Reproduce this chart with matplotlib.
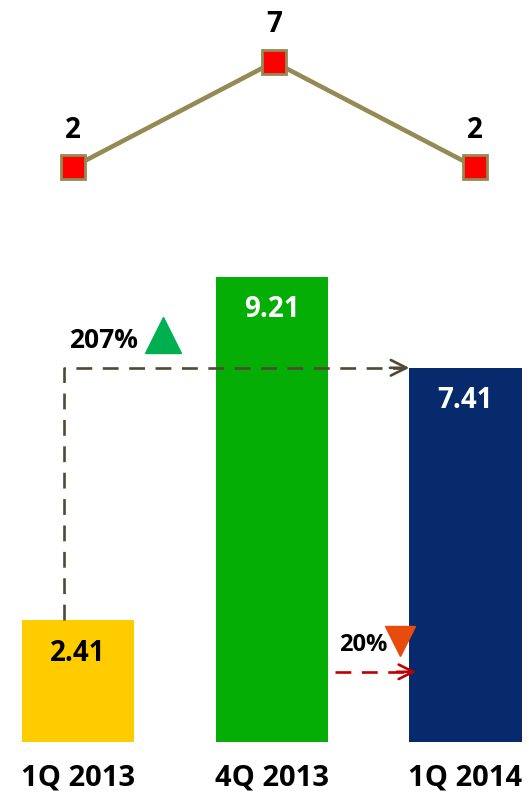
import matplotlib.pyplot as plt
from matplotlib.transforms import ScaledTranslation

# data
quarters = ["1Q 2013", "4Q 2013", "1Q 2014"]
bar_values = [2.41, 9.21, 7.41]
bar_colors = ["#ffcc00", "#04ae04", "#062a6b"]
bar_label_colors = ["black", "white", "white"]
line_values = [2, 7, 2]
change_up = "207%"
change_down = "20%"

plt.rcParams["font.family"] = ["Open Sans", "DejaVu Sans"]
PT = 0.72  # points per pixel at dpi 100

fig = plt.figure(figsize=(5.29, 7.92), dpi=100)

# top line chart
ax_line = fig.add_axes([0, (792 - 209) / 792, 1, 209 / 792])
xs = range(len(line_values))
ax_line.plot(xs, line_values, color="#948a54", lw=3.3, marker="s", ms=17,
             mfc="#ff0000", mec="#948a54", mew=2, zorder=3)
for x, v in zip(xs, line_values):
    ax_line.annotate(str(v), (x, v), xytext=(0, 37 * PT), textcoords="offset points",
                     ha="center", va="center", fontsize=20, fontweight="bold")
ax_line.set_xlim(-73 / 201, (529 - 73) / 201)
ax_line.set_ylim(0, 209 / 21)
ax_line.axis("off")

# bar chart
ax_bar = fig.add_axes([0, 50 / 792, 1, 500 / 792])
pos = list(range(len(bar_values)))
width = 0.58
ax_bar.bar(pos, bar_values, width=width, color=bar_colors)
for p, v, c in zip(pos, bar_values, bar_label_colors):
    ax_bar.annotate(f"{v:.2f}", (p, v), xytext=(0, -33 * PT), textcoords="offset points",
                    ha="center", va="center", fontsize=20, fontweight="bold", color=c)
    ax_bar.annotate(quarters[p], (p, 0), xytext=(0, -36 * PT), textcoords="offset points",
                    ha="center", va="center", fontsize=21, fontweight="bold")
ax_bar.set_xlim(-78 / 193.75, (529 - 78) / 193.75)
ax_bar.set_ylim(0, 500 / 50.5)
ax_bar.axis("off")

# 207% arrow: from top of first bar up to level of third bar, then across
x0 = pos[0] - 0.072
x1 = pos[2] - width / 2
dash = (0, (6, 4))
ax_bar.plot([x0, x0, x1 - 0.02], [bar_values[0], bar_values[2], bar_values[2]],
            color="#4f4a36", lw=1.9, linestyle=dash)
ax_bar.annotate("", xy=(x1, bar_values[2]), xytext=(x1 - 0.1, bar_values[2]),
                arrowprops=dict(arrowstyle="->", color="#4f4a36", lw=1.9,
                                mutation_scale=28, shrinkA=0, shrinkB=0))
ax_bar.annotate(change_up, (x0, bar_values[2]), xytext=(39 * PT, 27 * PT),
                textcoords="offset points", ha="center", va="center",
                fontsize=19, fontweight="bold")
ax_bar.plot([x0], [bar_values[2]], marker="^", ms=26, color="#00b050", ls="none",
            transform=ax_bar.transData + ScaledTranslation(
                99 / 100, 33 / 100, fig.dpi_scale_trans))

# 20% arrow: from second bar to third bar
y_arr = 1.39
xa = pos[1] + width / 2 + 0.035
xb = pos[2] - width / 2 + 0.035
ax_bar.plot([xa, xb - 0.02], [y_arr, y_arr], color="#c00000", lw=1.9, linestyle=dash)
ax_bar.annotate("", xy=(xb, y_arr), xytext=(xb - 0.1, y_arr),
                arrowprops=dict(arrowstyle="->", color="#c00000", lw=1.9,
                                mutation_scale=26, shrinkA=0, shrinkB=0))
ax_bar.annotate(change_down, (xa, y_arr), xytext=(29 * PT, 27 * PT),
                textcoords="offset points", ha="center", va="center",
                fontsize=17, fontweight="bold")
ax_bar.plot([xa], [y_arr], marker="v", ms=21, color="#e84c0c", ls="none",
            transform=ax_bar.transData + ScaledTranslation(
                65 / 100, 31 / 100, fig.dpi_scale_trans))

fig.savefig("out.png", dpi=100)
